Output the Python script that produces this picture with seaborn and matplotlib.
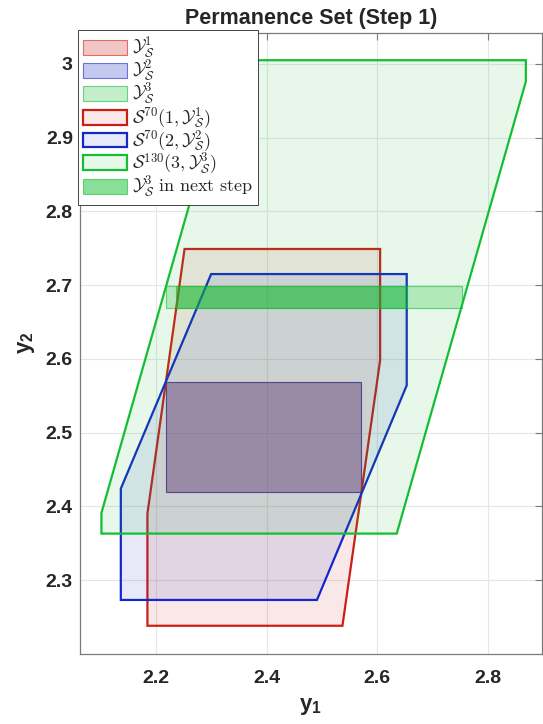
import matplotlib
matplotlib.use("Agg")
import matplotlib.pyplot as plt
import seaborn as sns

sns.set_style("whitegrid")
plt.rcParams['font.family'] = ['Liberation Sans', 'DejaVu Sans']
plt.rcParams['mathtext.fontset'] = 'cm'
plt.rcParams['mathtext.bf'] = 'Liberation Sans:bold'
plt.rcParams['mathtext.rm'] = 'Liberation Sans'

RED = '#cc1f14'
BLUE = '#1428c8'
GREEN = '#14be32'

# target sets Y_S^i (rectangles), vertices in (y1, y2)
y1_set_x = [2.218, 2.571, 2.571, 2.218]
y1_set_y = [2.419, 2.419, 2.568, 2.568]
y2_set_x = [2.218, 2.571, 2.571, 2.218]
y2_set_y = [2.419, 2.419, 2.568, 2.568]
y3_set_x = [2.219, 2.752, 2.752, 2.219]
y3_set_y = [2.669, 2.669, 2.699, 2.699]
y3_next_x = [2.237, 2.653, 2.653, 2.237]
y3_next_y = [2.669, 2.669, 2.699, 2.699]

# permanence sets S^N(i, Y_S^i)
s1_x = [2.185, 2.537, 2.605, 2.605, 2.252, 2.185]
s1_y = [2.238, 2.238, 2.598, 2.749, 2.749, 2.390]
s2_x = [2.137, 2.491, 2.653, 2.653, 2.300, 2.137]
s2_y = [2.273, 2.273, 2.564, 2.715, 2.715, 2.424]
s3_x = [2.102, 2.635, 2.868, 2.868, 2.335, 2.102]
s3_y = [2.363, 2.363, 2.976, 3.005, 3.005, 2.391]

x_ticks = [2.2, 2.4, 2.6, 2.8]
y_ticks = [2.3, 2.4, 2.5, 2.6, 2.7, 2.8, 2.9, 3.0]
y_ticklabels = ['2.3', '2.4', '2.5', '2.6', '2.7', '2.8', '2.9', '3']

labels = [r'$\mathcal{Y}_{\mathcal{S}}^{1}$',
          r'$\mathcal{Y}_{\mathcal{S}}^{2}$',
          r'$\mathcal{Y}_{\mathcal{S}}^{3}$',
          r'$\mathcal{S}^{70}(1,\mathcal{Y}_{\mathcal{S}}^{1})$',
          r'$\mathcal{S}^{70}(2,\mathcal{Y}_{\mathcal{S}}^{2})$',
          r'$\mathcal{S}^{130}(3,\mathcal{Y}_{\mathcal{S}}^{3})$',
          r'$\mathcal{Y}_{\mathcal{S}}^{3}\ \mathrm{in\ next\ step}$']

fig = plt.figure(figsize=(5.43, 7.24), dpi=100)
ax = fig.add_axes([0.147, 0.097, 0.851, 0.858])

ax.fill(y1_set_x, y1_set_y, facecolor=(0.8, 0.12, 0.08, 0.25), edgecolor=(0.8, 0.12, 0.08, 0.6), lw=0.8, label=labels[0])
ax.fill(y2_set_x, y2_set_y, facecolor=(0.08, 0.16, 0.78, 0.25), edgecolor=(0.08, 0.16, 0.78, 0.6), lw=0.8, label=labels[1])
ax.fill(y3_set_x, y3_set_y, facecolor=(0.08, 0.75, 0.2, 0.25), edgecolor=(0.08, 0.75, 0.2, 0.6), lw=0.8, label=labels[2])
ax.fill(s1_x, s1_y, facecolor=(0.8, 0.12, 0.08, 0.1), edgecolor=RED, lw=1.6, label=labels[3])
ax.fill(s2_x, s2_y, facecolor=(0.08, 0.16, 0.78, 0.1), edgecolor=BLUE, lw=1.6, label=labels[4])
ax.fill(s3_x, s3_y, facecolor=(0.08, 0.75, 0.2, 0.1), edgecolor=GREEN, lw=1.6, label=labels[5])
ax.fill(y3_next_x, y3_next_y, facecolor=(0.08, 0.75, 0.2, 0.5), edgecolor=(0.08, 0.75, 0.2, 0.6), lw=0.8, label=labels[6])

ax.set_xlim(2.063, 2.897)
ax.set_ylim(2.2, 3.0425)
ax.set_xticks(x_ticks)
ax.set_yticks(y_ticks)
ax.set_yticklabels(y_ticklabels)
ax.grid(True, color='#e6e6e6', lw=0.8)
for sp in ax.spines.values():
    sp.set_color('#7a7a7a')
    sp.set_linewidth(0.9)
ax.tick_params(direction='in', length=5, width=0.8, color='#7a7a7a',
               top=True, right=True, labelsize=14, labelcolor='#262626')
ax.tick_params(axis='x', pad=12)
ax.tick_params(axis='y', pad=5)
for t in ax.get_xticklabels() + ax.get_yticklabels():
    t.set_fontweight('bold')

ax.set_title('Permanence Set (Step 1)', fontsize=15.5, fontweight='bold', pad=6)
ax.set_xlabel(r'$\mathbf{y}_\mathbf{1}$', fontsize=16, math_fontfamily='custom', color='#262626', labelpad=6)
ax.set_ylabel(r'$\mathbf{y}_\mathbf{2}$', fontsize=16, math_fontfamily='custom', color='#262626', labelpad=6)

leg = ax.legend(loc='upper left', bbox_to_anchor=(-0.004, 1.004), borderaxespad=0,
                fontsize=13, frameon=True, fancybox=False, framealpha=1,
                edgecolor='#262626', handlelength=2.4, handleheight=0.9,
                handletextpad=0.3, labelspacing=-0.1, borderpad=0.3)
leg.get_frame().set_linewidth(0.6)

plt.savefig('out.png', dpi=100)
